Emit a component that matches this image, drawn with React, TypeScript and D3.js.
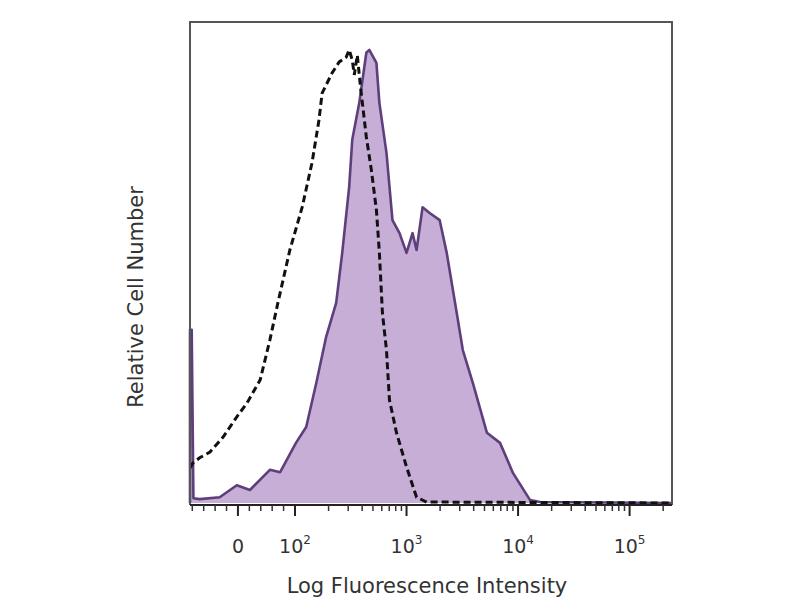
import React from 'react';
import * as d3 from 'd3';

// fluorescence value (x) vs relative count (% of max scale)
const isoX = [-84, -79, -67, -49, -26, -2, 16, 39, 56, 70, 91, 116, 142, 164, 175, 215, 249, 288, 306, 326, 340, 362, 385, 436, 484, 537, 571, 608, 661, 703, 813, 1000, 1230, 1514, 240000];
const isoY = [7.3, 8.3, 9.4, 10.6, 13.7, 17.9, 20.8, 25.6, 33.9, 41.6, 52.6, 61.5, 70.7, 79.6, 85.2, 89.4, 91.7, 92.7, 94.2, 92.1, 89.0, 93.1, 86.9, 76.1, 69.2, 60.9, 52.0, 39.5, 31.8, 21.4, 14.6, 7.5, 1.2, 0.2, 0];

const stainX = [-84, -84, -81, -78, -67, -32, -2, 21, 56, 74, 102, 126, 155, 190, 234, 265, 306, 326, 377, 436, 464, 537, 571, 661, 748, 865, 1000, 1132, 1230, 1393, 1611, 1983, 2293, 2820, 3196, 3936, 5260, 6890, 9020, 12820, 15780, 240000];
const stainY = [0, 36, 36, 1.0, 0.8, 1.2, 3.7, 2.7, 6.9, 6.4, 12.5, 15.8, 24.9, 34.5, 41.6, 52.0, 65.7, 75.5, 83.2, 93.6, 94.2, 91.5, 83.2, 72.8, 58.8, 56.1, 52.0, 56.1, 52.6, 61.5, 60.3, 58.8, 52.0, 39.5, 31.8, 24.9, 14.6, 12.5, 6.2, 0.6, 0.2, 0];

const majorTicks = [0, 100, 1000, 10000, 100000];
const tickBase = ['0', '10', '10', '10', '10'];
const tickExp = ['', '2', '3', '4', '5'];
const linMinor = [-80, -60, -40, -20, 20, 40, 60, 80];

const left = 190, right = 672, top = 22, bottom = 505;
const font = 'DejaVu Sans, Verdana, sans-serif';

const xLin = d3.scaleLinear().domain([-84, 100]).range([left, 295]);
const xLog = d3.scaleLog().domain([100, 240000]).range([295, right]);
const x = (v: number) => (v < 100 ? xLin(v) : xLog(v));
const y = d3.scaleLinear().domain([0, 100]).range([503, top]);

export default function App() {
  const stain = stainX.map((v, i) => [v, stainY[i]]);
  const iso = isoX.map((v, i) => [v, isoY[i]]);

  const area = d3.area<number[]>().x(d => x(d[0])).y0(y(0)).y1(d => y(d[1]));
  const line = d3.line<number[]>().x(d => x(d[0])).y(d => y(d[1]));

  const logMinor: number[] = [];
  [100, 1000, 10000].forEach(p => d3.range(2, 10).forEach(m => logMinor.push(m * p)));
  logMinor.push(200000);
  const minor = linMinor.concat(logMinor);

  return (
    <svg width={800} height={600} style={{ position: 'absolute', left: 0, top: 0, background: '#fff' }}>
      <path d={area(stain) || ''} fill="#c6aed6" />
      <path d={line(stain) || ''} fill="none" stroke="#5e3f7c" strokeWidth={2.6} strokeLinejoin="round" />
      <path d={line(iso) || ''} fill="none" stroke="#111" strokeWidth={3} strokeDasharray="7,4" />

      {/* frame */}
      <path d={`M${left},${bottom}V${top}H${right}V${bottom}`} fill="none" stroke="#555" strokeWidth={2} />
      <line x1={left} x2={right} y1={bottom} y2={bottom} stroke="#222" strokeWidth={2} />

      {minor.map((v, i) => (
        <line key={'m' + i} x1={x(v)} x2={x(v)} y1={bottom} y2={bottom + 6} stroke="#333" strokeWidth={1.5} />
      ))}
      {majorTicks.map((v, i) => (
        <line key={'M' + i} x1={x(v)} x2={x(v)} y1={bottom} y2={bottom + 11} stroke="#222" strokeWidth={2} />
      ))}
      {majorTicks.map((v, i) => (
        <text key={'t' + i} x={x(v)} y={553} textAnchor="middle" fontFamily={font} fontSize={19} fill="#333">
          {tickBase[i]}
          {tickExp[i] && <tspan fontSize={12} dy={-9}>{tickExp[i]}</tspan>}
        </text>
      ))}

      <text x={427} y={593} textAnchor="middle" fontFamily={font} fontSize={21} fill="#333">
        Log Fluorescence Intensity
      </text>
      <text transform="translate(143,297) rotate(-90)" textAnchor="middle" fontFamily={font} fontSize={21} fill="#333">
        Relative Cell Number
      </text>
    </svg>
  );
}
